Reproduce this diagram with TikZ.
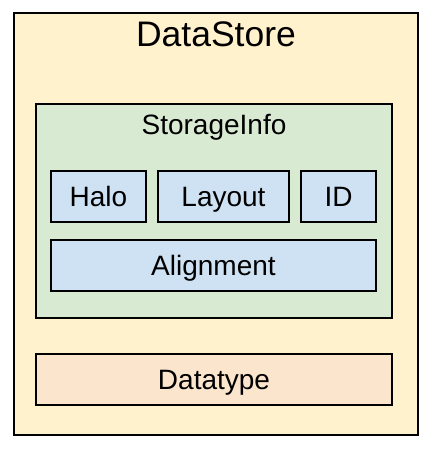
\documentclass[tikz,border=0pt]{standalone}
\usepackage{fontspec}
\setmainfont{Liberation Sans}
\usepackage{tikz}
\usetikzlibrary{calc}

\definecolor{dsyellow}{HTML}{FFF2CC}
\definecolor{sigreen}{HTML}{D9EAD3}
\definecolor{fldblue}{HTML}{CFE2F3}
\definecolor{dtorange}{HTML}{FCE5CD}

\tikzset{
  box/.style={draw=black, line width=2pt, rectangle, inner sep=0pt},
  fld/.style={box, fill=fldblue, minimum height=51pt,
    font=\fontsize{28}{32}\selectfont, text height=20pt, text depth=0pt}
}

\begin{document}
\begin{tikzpicture}[x=1pt, y=-1pt]
  \useasboundingbox (0,0) rectangle (436,450);

  % 外枠 DataStore
  \node[box, fill=dsyellow, minimum width=404pt, minimum height=422pt] (ds) at (216,224) {};
  \node[anchor=base, font=\fontsize{35.5}{40}\selectfont] (dstitle) at (216,46) {DataStore};

  % StorageInfo の枠
  \node[box, fill=sigreen, minimum width=356pt, minimum height=214pt] (si) at (214,211) {};
  \node[anchor=base, font=\fontsize{28}{32}\selectfont] (sititle) at (214,134) {StorageInfo};

  % 中の箱
  \node[fld, minimum width=95pt] (halo) at (98.5,196.5) {Halo};
  \node[fld, minimum width=131pt] (layout) at (223.5,196.5) {Layout};
  \node[fld, minimum width=75pt] (id) at (338.5,196.5) {ID};
  \node[fld, minimum width=325pt] (align) at (213.5,265.5) {Alignment};

  % Datatype
  \node[fld, fill=dtorange, minimum width=356pt] (dtype) at (214,379.5) {Datatype};
\end{tikzpicture}
\end{document}
